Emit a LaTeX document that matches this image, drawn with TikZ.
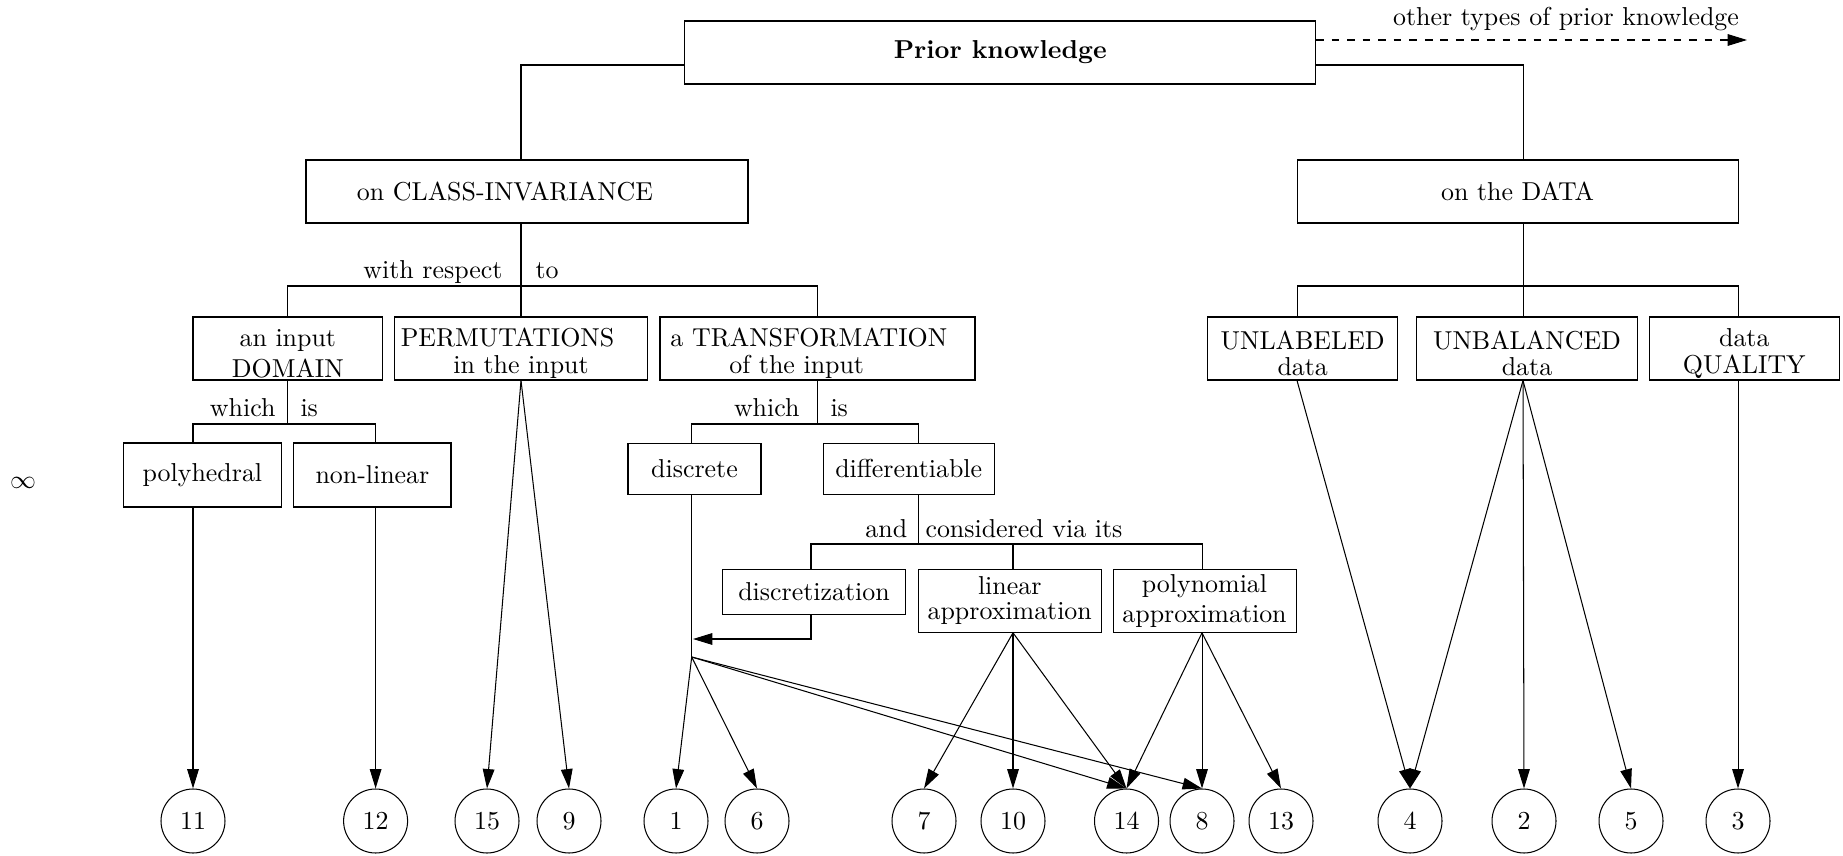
\documentclass[tikz,border=0pt]{standalone}
\usepackage{tikz}
\usetikzlibrary{arrows.meta}

\newcommand{\pu}{0.386pt}
\newcommand{\tallrow}{\rule{0pt}{10.8pt}}

\begin{document}
\begin{tikzpicture}[x=0.386pt, y=-0.386pt,
    box/.style={draw, rectangle, inner sep=0pt, align=center,
        font={\baselineskip=0pt\relax\lineskip=2.9pt\relax}},
    num/.style={draw, circle, inner sep=0pt, minimum size=64*\pu},
    lbl/.style={inner sep=0pt},
    arr/.style={-{Triangle[length=7.5pt,width=4.5pt]}}]
    \useasboundingbox (0,0) rectangle (1843,856);

    % Top box
    \node[box, minimum width=630.5*\pu, minimum height=63*\pu] (prior) at (1000.2,52.5) {\textbf{Prior knowledge}};
    \coordinate (oth) at (1747,40);
    \draw[dashed, arr] (prior.east |- oth) -- (oth) node[pos=0.58, above] (othl) {other types of prior knowledge};

    % Second level
    \node[box, minimum width=442*\pu, minimum height=63*\pu] (class) at (527,191.5) {on CLASS-INVARIANCE\hspace*{17pt}};
    \node[box, minimum width=441*\pu, minimum height=63*\pu] (data) at (1517.5,191.5) {on the DATA};
    \coordinate (jp) at (0,65);
    \coordinate (jc) at (521,286);
    \coordinate (jdt) at (1523,286);
    \draw (prior.west |- jp) -| (class.north -| jc);
    \draw (prior.east |- jp) -| (data.north -| jdt);

    % Class invariance with respect to
    \node[box, minimum width=252.4*\pu, minimum height=63*\pu] (perm) at (521,348.5) {\tallrow PERMUTATIONS\hspace*{10.4pt}\\in the input};
    \node[box, minimum width=189.6*\pu, minimum height=63*\pu] (dom) at (287.8,348.5) {\tallrow an input\\DOMAIN};
    \node[box, minimum width=315*\pu, minimum height=63*\pu] (trans) at (817.5,348.5) {\tallrow a TRANSFORMATION\hspace*{6.7pt}\\of the input\hspace*{16pt}};
    \draw (class.south -| jc) -- (jc) -| (dom);
    \draw (jc) -- (perm);
    \draw (jc) -| (trans);
    \node[lbl, anchor=base east] (wr) at (503,279) {with respect};
    \node[lbl, anchor=base west] (wto) at (535,279) {to};

    % References
    \foreach \lab/\xx in {11/193, 12/375.6, 15/487, 9/569, 1/676, 6/757, 7/924, 10/1013,
                          14/1126.5, 8/1202, 13/1281, 4/1410, 2/1524, 5/1631, 3/1738}
        \node[num] (n\lab) at (\xx,821) {\lab};

    % Domain which is
    \node[box, minimum width=157.3*\pu, minimum height=64*\pu] (poly) at (202.4,475) {polyhedral};
    \node[box, minimum width=157.2*\pu, minimum height=64*\pu] (nonlin) at (372.4,475) {non-linear};
    \coordinate (jd) at (287.8,424);
    \draw (dom) -- (jd) -| (poly.north -| n11);
    \draw (jd) -| (nonlin.north -| n12);
    \node[lbl, anchor=base east] (wh1) at (276,417) {which};
    \node[lbl, anchor=base west] (is1) at (300,417) {is};

    % Transformation which is
    \node[box, minimum width=133*\pu, minimum height=51*\pu] (disc) at (694.5,468.7) {discrete};
    \node[box, minimum width=171*\pu, minimum height=51*\pu] (diff) at (908.7,468.7) {differentiable};
    \coordinate (jt) at (817.5,424);
    \coordinate (jf) at (918.3,544);
    \coordinate (jy) at (691.7,657);
    \draw (trans) -- (jt) -| (disc.north -| jy);
    \draw (jt) -| (diff.north -| jf);
    \node[lbl, anchor=base east] (wh2) at (800,417) {which};
    \node[lbl, anchor=base west] (is2) at (830,417) {is};

    % Differentiable and considered via its
    \node[box, minimum width=183.4*\pu, minimum height=44.7*\pu] (dcz) at (814,591.7) {discretization};
    \node[box, minimum width=182.7*\pu, minimum height=63*\pu] (lin) at (1009.7,600.8) {linear\\approximation};
    \node[box, minimum width=183*\pu, minimum height=63*\pu] (pol) at (1204.5,600.8) {polynomial\\approximation};
    \coordinate (jz) at (811,639);
    \coordinate (jx) at (693,639);
    \draw (diff.south -| jf) -- (jf) -| (dcz.north -| jz);
    \draw (jf) -| (lin.north -| n10);
    \draw (jf) -| (pol.north -| n8);
    \node[lbl, anchor=base east] (cand) at (907.7,537.5) {and};
    \node[lbl, anchor=base west] (cvia) at (925,537.5) {considered via its};

    % Discrete branch
    \draw (disc.south -| jy) -- (jy);
    \draw[arr] (dcz.south -| jz) -- (jz) -- (jx);

    % Data
    \node[box, minimum width=189.5*\pu, minimum height=63*\pu] (unlab) at (1302.7,348.5) {\tallrow UNLABELED\\data};
    \node[box, minimum width=221*\pu, minimum height=63*\pu] (unbal) at (1527,348.5) {\tallrow UNBALANCED\\data};
    \node[box, minimum width=190*\pu, minimum height=63*\pu] (qual) at (1744.3,348.5) {\tallrow data\\QUALITY};
    \coordinate (ju) at (1297,286);
    \draw (data.south -| jdt) -- (jdt) -| (unlab.north -| ju);
    \draw (jdt) -- (unbal.north -| jdt);
    \draw (jdt) -| (qual.north -| n3);

    % Arrows to the references
    \draw[arr] (poly.south -| n11) -- (n11.north);
    \draw[arr] (nonlin.south -| n12) -- (n12.north);
    \foreach \t in {15,9} \draw[arr] (perm.south) -- (n\t.north);
    \foreach \t in {1,6,14,8} \draw[arr] (jy) -- (n\t.north);
    \foreach \t in {7,10,14} \draw[arr] (lin.south -| n10) -- (n\t.north);
    \foreach \t in {14,8,13} \draw[arr] (pol.south -| n8) -- (n\t.north);
    \draw[arr] (unlab.south -| ju) -- (n4.north);
    \foreach \t in {4,2,5} \draw[arr] (unbal.south -| jdt) -- (n\t.north);
    \draw[arr] (qual.south -| n3) -- (n3.north);

    \node (inf) at (23,483) {$\infty$};
\end{tikzpicture}
\end{document}
